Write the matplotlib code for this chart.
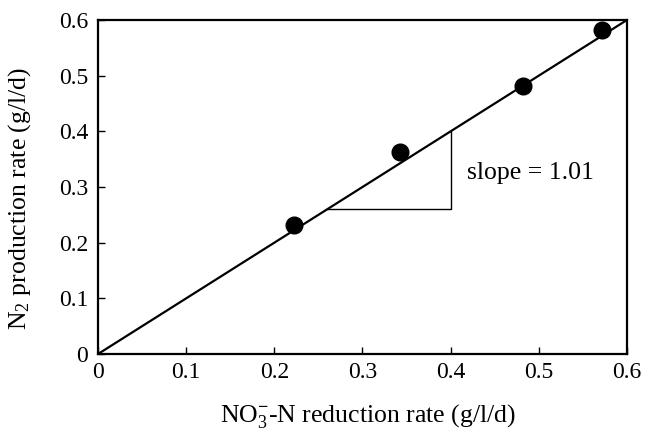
import matplotlib
matplotlib.use("Agg")
import matplotlib.pyplot as plt

plt.rcParams['font.family'] = ['Liberation Serif', 'DejaVu Serif']
plt.rcParams['mathtext.fontset'] = 'custom'
plt.rcParams['mathtext.rm'] = 'Liberation Serif'
plt.rcParams['mathtext.it'] = 'Liberation Serif:italic'
plt.rcParams['mathtext.bf'] = 'Liberation Serif:bold'

# Data
no3_rate = [0.222, 0.342, 0.482, 0.572]
n2_rate = [0.232, 0.363, 0.481, 0.582]
fit_x = [0.0, 0.6]
fit_y = [0.0, 0.6]
tri_x = [0.26, 0.40, 0.40]
tri_y = [0.26, 0.26, 0.40]
tick_vals = [0, 0.1, 0.2, 0.3, 0.4, 0.5, 0.6]
tick_labels = ["0", "0.1", "0.2", "0.3", "0.4", "0.5", "0.6"]

fig = plt.figure(figsize=(6.47, 4.30), dpi=100)
ax = fig.add_axes([0.1515, 0.1767, 0.8175, 0.7768])

ax.plot(fit_x, fit_y, color='black', lw=1.6, solid_capstyle='butt')
ax.plot(tri_x, tri_y, color='black', lw=1.0)
ax.plot(no3_rate, n2_rate, 'o', color='black', markersize=12)

ax.text(0.418, 0.325, "slope = 1.01", fontsize=18.5, va='center', ha='left')

ax.set_xlim(0, 0.6)
ax.set_ylim(0, 0.6)
ax.set_xticks(tick_vals)
ax.set_xticklabels(tick_labels)
ax.set_yticks(tick_vals)
ax.set_yticklabels(tick_labels)
ax.tick_params(direction='in', length=5, width=1, labelsize=17, top=False, right=False)
ax.tick_params(axis='x', pad=6)
ax.tick_params(axis='y', pad=7)
for s in ax.spines.values():
    s.set_linewidth(1.6)

ax.set_xlabel(r"NO$_3^{\mathbf{-}}$-N reduction rate (g/l/d)", fontsize=18.5)
ax.set_ylabel(r"N$_2$ production rate (g/l/d)", fontsize=18.5)
ax.xaxis.set_label_coords(0.51, -0.143)
ax.yaxis.set_label_coords(-0.122, 0.465)

fig.savefig("out.png", dpi=100)
